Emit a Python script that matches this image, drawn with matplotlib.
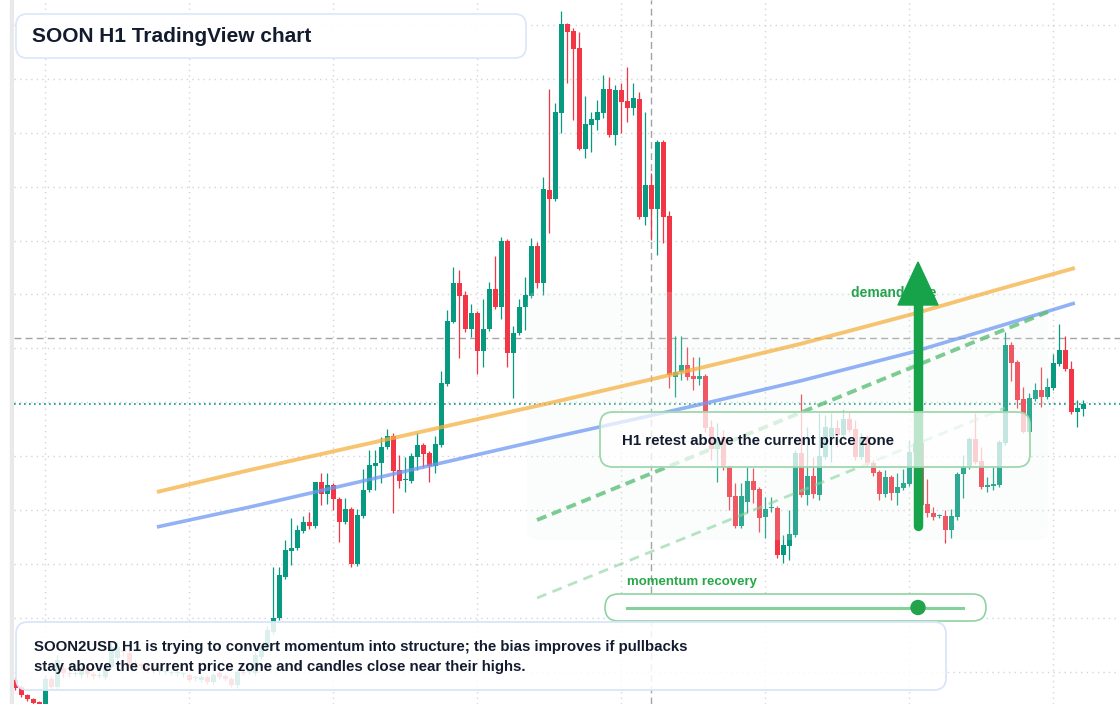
import numpy as np
import matplotlib
matplotlib.use('Agg')
import matplotlib.pyplot as plt
from matplotlib.patches import FancyBboxPatch, Rectangle, Polygon, Circle

plt.rcParams['font.family'] = ['Liberation Sans', 'DejaVu Sans']

# SOON2USD hourly candles (oldest first)
opens = [
    .120, .113, .105, .101, .098, .094, .121, .113, .132, .127,
    .126, .125, .132, .126, .124, .123, .133, .142, .150, .147,
    .137, .136, .134, .132, .129, .128, .127, .127, .126, .125,
    .122, .120, .123, .118, .127, .124, .121, .115, .128, .128,
    .127, .143, .153, .168, .182, .223, .249, .252, .269, .278,
    .274, .318, .306, .315, .301, .278, .291, .236, .284, .310,
    .334, .337, .353, .364, .330, .320, .319, .343, .355, .347,
    .334, .355, .416, .478, .517, .505, .471, .487, .449, .471,
    .511, .493, .559, .447, .467, .493, .504, .554, .517, .610,
    .601, .687, .776, .769, .752, .651, .675, .680, .687, .711,
    .665, .710, .699, .692, .701, .583, .615, .591, .658, .584,
    .423, .428, .435, .424, .421, .424, .373, .351, .363, .333,
    .304, .274, .298, .319, .311, .283, .292, .292, .245, .254,
    .265, .347, .305, .324, .305, .343, .363, .372, .365, .381,
    .371, .343, .363, .337, .328, .306, .323, .307, .312, .316,
    .348, .357, .296, .287, .284, .284, .270, .283, .326, .333,
    .361, .339, .313, .314, .315, .357, .455, .438, .401, .368,
    .401, .410, .403, .412, .436, .450, .431, .388, .391,
]
highs = [
    .123, .115, .106, .102, .099, .124, .124, .145, .135, .129,
    .129, .134, .134, .128, .128, .136, .157, .158, .154, .150,
    .140, .138, .136, .134, .131, .130, .129, .130, .128, .127,
    .124, .125, .125, .127, .129, .126, .123, .130, .130, .132,
    .148, .156, .174, .233, .233, .260, .282, .275, .284, .288,
    .318, .327, .327, .317, .303, .302, .293, .291, .331, .350,
    .350, .363, .371, .367, .345, .343, .347, .367, .357, .349,
    .364, .429, .490, .533, .530, .509, .496, .489, .501, .518,
    .544, .563, .561, .474, .501, .523, .562, .558, .623, .711,
    .697, .789, .777, .772, .768, .704, .688, .700, .725, .723,
    .715, .717, .733, .717, .708, .688, .627, .660, .660, .589,
    .464, .464, .453, .443, .443, .426, .380, .377, .370, .335,
    .317, .317, .333, .332, .313, .303, .303, .294, .265, .290,
    .350, .406, .373, .343, .387, .385, .387, .380, .390, .388,
    .380, .367, .365, .340, .330, .330, .325, .327, .331, .360,
    .363, .363, .321, .293, .286, .290, .291, .328, .345, .363,
    .387, .353, .323, .333, .360, .468, .458, .440, .413, .407,
    .417, .433, .422, .446, .476, .464, .439, .400, .400,
]
lows = [
    .110, .103, .099, .095, .092, .091, .111, .111, .123, .123,
    .124, .122, .123, .121, .122, .121, .131, .140, .144, .134,
    .133, .131, .128, .127, .126, .126, .125, .124, .123, .118,
    .119, .118, .116, .116, .121, .119, .113, .112, .125, .126,
    .125, .141, .151, .166, .180, .221, .235, .250, .267, .271,
    .272, .295, .296, .290, .258, .276, .233, .234, .282, .308,
    .310, .317, .351, .287, .312, .308, .317, .330, .333, .318,
    .327, .353, .414, .477, .442, .468, .463, .426, .433, .469,
    .491, .481, .433, .402, .465, .470, .502, .512, .505, .567,
    .599, .667, .717, .680, .650, .642, .648, .670, .682, .663,
    .655, .667, .678, .685, .581, .575, .560, .545, .557, .412,
    .403, .420, .420, .410, .415, .368, .340, .318, .330, .290,
    .272, .272, .287, .297, .268, .262, .288, .242, .237, .240,
    .263, .303, .295, .302, .300, .341, .338, .353, .363, .368,
    .340, .341, .334, .324, .300, .303, .300, .295, .310, .314,
    .345, .293, .283, .280, .282, .257, .262, .280, .302, .331,
    .336, .311, .308, .310, .313, .355, .419, .392, .367, .366,
    .399, .393, .401, .410, .434, .429, .386, .373, .384,
]
closes = [
    .112, .105, .101, .097, .094, .121, .113, .140, .127, .126,
    .127, .132, .126, .124, .125, .133, .153, .153, .148, .137,
    .136, .134, .130, .129, .129, .128, .127, .128, .126, .120,
    .122, .123, .118, .125, .123, .121, .115, .128, .127, .130,
    .145, .153, .170, .182, .225, .250, .252, .270, .278, .274,
    .318, .306, .315, .301, .278, .291, .236, .285, .310, .335,
    .337, .353, .364, .329, .319, .320, .344, .355, .346, .334,
    .356, .417, .479, .517, .504, .471, .487, .449, .471, .511,
    .493, .559, .447, .467, .493, .505, .554, .517, .611, .601,
    .688, .776, .768, .751, .651, .676, .681, .688, .711, .665,
    .710, .698, .692, .702, .583, .615, .591, .658, .583, .425,
    .428, .435, .423, .421, .424, .372, .351, .362, .333, .303,
    .274, .304, .319, .310, .282, .291, .292, .245, .255, .266,
    .347, .305, .324, .306, .344, .373, .372, .365, .381, .370,
    .343, .363, .337, .327, .306, .323, .307, .313, .317, .348,
    .357, .295, .287, .283, .284, .270, .284, .326, .333, .361,
    .338, .313, .315, .316, .358, .455, .437, .400, .368, .402,
    .410, .403, .413, .437, .450, .431, .388, .392, .396,
]

# drawn trend lines (candle index, price)
trend_idx = [23.6, 39.1, 89.1, 104.1, 114.1, 130.8, 149.6, 164.1, 176.6]
orange_px = [.308, .330, .397, .418, .432, .456, .486, .511, .532]
blue_px = [.273, .293, .362, .382, .3955, .419, .448, .474, .497]
channel_top_idx = [86.95, 172.1]
channel_top_px = [.280, .488]
channel_low_idx = [86.95, 164.95]
channel_low_px = [.202, .392]

# levels and zone
current_price = 0.396
resistance = 0.462
cursor_idx = 106
zone_idx = [85.3, 172.1]
zone_px = [0.260, 0.508]

W, H = 1120, 704
fig = plt.figure(figsize=(W / 100, H / 100), dpi=100)
fig.patch.set_facecolor('white')
fig.add_artist(Rectangle((10 / W, 0), 4 / W, 1, transform=fig.transFigure,
                         color='#e9e9e9', zorder=0))

ax = fig.add_axes([14 / W, 0, 1 - 14 / W, 1])
ax.set_xlim(-0.22, 184.12)
ax.set_ylim(0.096, 0.800)
for s in ax.spines.values():
    s.set_visible(False)
ax.set_xticks(np.arange(5.03, 184, 24))
ax.set_yticks(np.arange(0.775, 0.09, -0.0539))
ax.tick_params(length=0, labelbottom=False, labelleft=False)
ax.grid(True, color='#d4d4d4', linestyle=(0, (1, 3)), lw=1)
ax.set_axisbelow(True)

o = np.array(opens)
h = np.array(highs)
l = np.array(lows)
c = np.array(closes)
idx = np.arange(len(c))
col = np.where(c >= o, '#089981', '#f23645')

ax.vlines(idx, l, h, colors=col, lw=0.9, zorder=2)
body_lo = np.minimum(o, c)
body_h = np.maximum(np.abs(c - o), 0.0014)
ax.bar(idx, body_h, bottom=body_lo, width=0.78, color=col, linewidth=0, zorder=2.1)

ax.axhline(resistance, color='#a3a3a3', lw=1, dashes=(5, 3), zorder=1.5)
ax.axvline(cursor_idx, color='#a3a3a3', lw=1, dashes=(5, 3), zorder=1.5)
ax.axhline(current_price, color='#089981', lw=1.2, linestyle=(0, (1, 2)), zorder=1.6)

zone = FancyBboxPatch((zone_idx[0], zone_px[0]), zone_idx[1] - zone_idx[0],
                      zone_px[1] - zone_px[0],
                      boxstyle='round,pad=0,rounding_size=1.7', mutation_aspect=0.006,
                      fc='#e6f7ea', ec='none', alpha=0.18, zorder=2.5)
ax.add_patch(zone)

ax.plot(trend_idx, orange_px, color='#f5b041', alpha=0.75, lw=2.8,
        solid_capstyle='butt', solid_joinstyle='round', zorder=3)
ax.plot(trend_idx, blue_px, color='#6f98f2', alpha=0.75, lw=2.6,
        solid_capstyle='butt', solid_joinstyle='round', zorder=3)
ax.plot(channel_top_idx, channel_top_px, color='#5cbf78', alpha=0.8, lw=2.8,
        dashes=(2.6, 1.5), zorder=3)
ax.plot(channel_low_idx, channel_low_px, color='#86d39b', alpha=0.6, lw=2,
        dashes=(3.6, 2.4), zorder=3)

# annotation layer in pixel coordinates
ov = fig.add_axes([0, 0, 1, 1], zorder=5)
ov.set_xlim(0, W)
ov.set_ylim(H, 0)
ov.axis('off')
ov.patch.set_alpha(0)

green = '#16a34a'
navy = '#131b2e'

ov.text(851, 293, 'demand side', color='#22a34c', fontsize=10, fontweight='bold',
        va='center', zorder=1)
ov.plot([918, 918], [526, 300], color=green, lw=6.8, solid_capstyle='round', zorder=2)
ov.add_patch(Polygon([[898, 305], [918, 262], [938, 305]], closed=True, color=green, zorder=2))

ov.add_patch(FancyBboxPatch((600, 412), 430, 55, boxstyle='round,pad=0,rounding_size=13',
                            fc='white', alpha=0.72, ec='none', zorder=3))
ov.add_patch(FancyBboxPatch((600, 412), 430, 55, boxstyle='round,pad=0,rounding_size=13',
                            fc='none', ec='#9fd8ad', lw=1.3, zorder=3.1))
ov.text(622, 441, 'H1 retest above the current price zone', color=navy, fontsize=10.8,
        fontweight='bold', va='center', zorder=4)

ov.text(627, 582, 'momentum recovery', color='#27a847', fontsize=9.5,
        fontweight='bold', va='center', zorder=4)
ov.add_patch(FancyBboxPatch((605, 594), 381, 27, boxstyle='round,pad=0,rounding_size=13.5',
                            fc='white', ec='#8fd3a2', lw=1.2, zorder=3))
ov.plot([627, 963], [607.5, 607.5], color='#86d19a', lw=2.2, zorder=4)
ov.add_patch(Circle((918, 607.5), 7, color='#22a34c', zorder=5))

ov.add_patch(FancyBboxPatch((16, 622), 930, 68, boxstyle='round,pad=0,rounding_size=12',
                            fc='white', alpha=0.86, ec='none', zorder=3))
ov.add_patch(FancyBboxPatch((16, 622), 930, 68, boxstyle='round,pad=0,rounding_size=12',
                            fc='none', ec='#d9e6fa', lw=1.3, zorder=3.1))
ov.text(34, 647, 'SOON2USD H1 is trying to convert momentum into structure; the bias improves if pullbacks',
        color=navy, fontsize=10.8, fontweight='bold', va='center', zorder=4)
ov.text(34, 667, 'stay above the current price zone and candles close near their highs.',
        color=navy, fontsize=10.8, fontweight='bold', va='center', zorder=4)

ov.add_patch(FancyBboxPatch((16, 14), 510, 44, boxstyle='round,pad=0,rounding_size=11',
                            fc='white', alpha=0.92, ec='#d9e6fa', lw=1.3, zorder=3))
ov.text(32, 36, 'SOON H1 TradingView chart', color=navy, fontsize=15,
        fontweight='bold', va='center', zorder=4)

fig.savefig('out.png', dpi=100)
